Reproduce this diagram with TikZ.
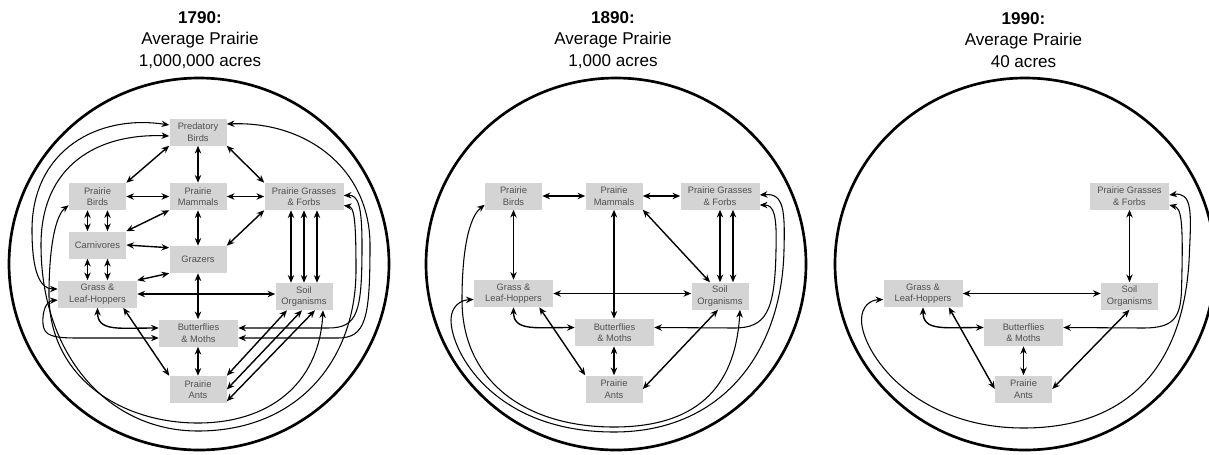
\documentclass[tikz,border=0pt]{standalone}
\usepackage{fontspec}
\setmainfont{Liberation Sans}
\usepackage{tikz}
\usetikzlibrary{arrows.meta}
\definecolor{boxgray}{HTML}{D4D4D4}
\definecolor{inkgray}{HTML}{505050}
\tikzset{
	box/.style={fill=boxgray, text=inkgray, align=center, font=\fontsize{7}{8.6}\selectfont,
			minimum width=42.75pt, minimum height=20.25pt, inner sep=0.5pt},
	wide box/.style={box, minimum width=59.25pt},
	both/.style={{Stealth[length=5.8pt,width=4.8pt]}-{Stealth[length=5.8pt,width=4.8pt]}, line width=1.05pt},
	sweep/.style={both, line width=0.8pt},
	rim/.style={line width=2pt},
	heading/.style={align=center, font=\fontsize{12.8}{16.2}\selectfont}
}

\begin{document}
\begin{tikzpicture}[x=0.75pt,y=-0.75pt]
	\useasboundingbox (0,0) rectangle (1209,454);
	\draw[rim] (199,264) ellipse [x radius=142.5pt, y radius=139.5pt];
	\draw[rim] (616,264) ellipse [x radius=142.5pt, y radius=139.5pt];
	\draw[rim] (1025,264) ellipse [x radius=142.5pt, y radius=139.5pt];

	\begin{scope}[shift={(198,0)}]
		\node[heading] (head1) at (2,40) {\textbf{1790:}\\Average Prairie\\1,000,000 acres};
		\node[box] (pred1) at (0,132) {Predatory\\Birds};
		\node[box] (pbird1) at (-100.5,196.5) {Prairie\\Birds};
		\node[box] (mamm1) at (0,196.5) {Prairie\\Mammals};
		\node[wide box] (forb1) at (106,196.5) {Prairie Grasses\\\& Forbs};
		\node[box] (carn1) at (-100.5,245) {Carnivores};
		\node[box] (graz1) at (0,259.5) {Grazers};
		\node[wide box] (hop1) at (-100.5,294) {Grass \&\\Leaf-Hoppers};
		\node[box] (soil1) at (106,296.5) {Soil\\Organisms};
		\node[wide box] (moth1) at (0.5,333) {Butterflies\\\& Moths};
		\node[box] (ant1) at (0,389.5) {Prairie\\Ants};

		\draw[both] (pred1.south west) -- (pbird1.north east);
		\draw[both] (pred1) -- (mamm1);
		\draw[both] (pred1.south east) -- (forb1.north west);
		\draw[both] (pbird1) -- (mamm1);
		\draw[both] (mamm1) -- (forb1);
		\foreach \dx in {-7.5pt,7.5pt} {
			\draw[both] ([xshift=\dx]pbird1.south) -- ([xshift=\dx]carn1.north);
			\draw[both] ([xshift=\dx]carn1.south) -- ([xshift=\dx]hop1.north);
		}
		\draw[both] (mamm1.south west) -- (carn1.north east);
		\draw[both] (mamm1) -- (graz1);
		\draw[both] (forb1.south west) -- (graz1.north east);
		\draw[both] (carn1.east) -- ([yshift=-1.5pt]graz1.north west);
		\draw[both] (graz1.south west) -- (hop1.north east);
		\draw[both] (hop1.east) -- (soil1.west |- hop1.east);
		\draw[both] (graz1) -- (graz1 |- moth1.north);
		\foreach \dx in {-9.75pt,0pt,9.75pt}
			\draw[both] ([xshift=\dx]forb1.south) -- ([xshift=\dx]soil1.north);
		\draw[both] (hop1.south) .. controls +(0,24) and +(-40,0) .. ([yshift=3.75pt]moth1.west);
		\draw[both] ([xshift=-10.5pt]hop1.south east) -- (ant1.north west);
		\draw[both] (ant1 |- moth1.south) -- (ant1.north);
		\draw[both] ([xshift=-12.75pt]soil1.south) -- (ant1.north east);
		\draw[both] ([xshift=-1.5pt]soil1.south) -- (ant1.east);
		\draw[both] ([xshift=8.25pt]soil1.south) -- ([yshift=1.5pt]ant1.south east);

		\draw[sweep] ([yshift=5.25pt]pred1.west) .. controls (-100,114) and (-166,150) .. (-166,230)
			.. controls (-166,272) and (-158,289) .. ([yshift=3.75pt]hop1.west);
		\draw[sweep] ([yshift=-3pt]pred1.west) .. controls (-100,133) and (-157,165) .. (-157,245)
			.. controls (-157,355) and (-90,431) .. (0,431)
			.. controls (100,431) and (158,360) .. (158,270)
			.. controls (158,218) and (156,207) .. ([yshift=-6.75pt]forb1.east);
		\draw[sweep] ([yshift=3.75pt]pbird1.south west) .. controls (-142,215) and (-149,245) .. (-149,295)
			.. controls (-149,375) and (-80,423) .. (0,423)
			.. controls (70,423) and (121,385) .. ([xshift=14.25pt]soil1.south);
		\draw[sweep] ([yshift=-4.5pt]hop1.west) .. controls (-152,301) and (-156,312) .. (-155,324)
			.. controls (-154,336) and (-145,338) .. (-120,338) -- ([yshift=-3.75pt]moth1.west);
		\draw[sweep] ([yshift=6pt]pred1.east) .. controls (110,121) and (172,170) .. (172,245)
			.. controls (172,318) and (168,338) .. (140,338) -- ([yshift=-3.75pt]moth1.east);
		\draw[sweep] ([yshift=0.75pt]forb1.east) .. controls (160,195) and (164,205) .. (164,245)
			.. controls (164,312) and (160,328) .. (130,328) -- ([yshift=3.75pt]moth1.east);
	\end{scope}

	\begin{scope}[shift={(614,0)}]
		\node[heading] (head2) at (-1,40) {\textbf{1890:}\\Average Prairie\\1,000 acres};
		\node[box] (pbird2) at (-100.5,196) {Prairie\\Birds};
		\node[box] (mamm2) at (0,196) {Prairie\\Mammals};
		\node[wide box] (forb2) at (106,196) {Prairie Grasses\\\& Forbs};
		\node[wide box] (hop2) at (-100.5,293.5) {Grass \&\\Leaf-Hoppers};
		\node[box] (soil2) at (106,296) {Soil\\Organisms};
		\node[wide box] (moth2) at (0.5,332.5) {Butterflies\\\& Moths};
		\node[box] (ant2) at (0,389) {Prairie\\Ants};

		\draw[both] (pbird2) -- (mamm2);
		\draw[both] (mamm2) -- (forb2);
		\draw[both] (pbird2) -- (hop2);
		\draw[both] (mamm2) -- (mamm2 |- moth2.north);
		\draw[both] (mamm2.south east) -- ([xshift=-7.5pt]soil2.north);
		\foreach \dx in {0pt,9.75pt}
			\draw[both] ([xshift=\dx]forb2.south) -- ([xshift=\dx]soil2.north);
		\draw[both] (hop2.east) -- (soil2.west |- hop2.east);
		\draw[both] (hop2.south) .. controls +(0,24) and +(-40,0) .. ([yshift=3.75pt]moth2.west);
		\draw[both] ([xshift=-10.5pt]hop2.south east) -- (ant2.north west);
		\draw[both] (ant2 |- moth2.south) -- (ant2.north);
		\draw[both] ([xshift=-1.5pt]soil2.south) -- (ant2.east);

		\draw[sweep] ([yshift=-6.75pt]forb2.east) .. controls (160,205) and (163,215) .. (162,250)
			.. controls (161,312) and (152,328) .. (120,328) -- ([yshift=3.75pt]moth2.east);
		\draw[sweep] ([yshift=0.75pt]forb2.east) .. controls (170,193) and (171,210) .. (170,250)
			.. controls (168,350) and (110,432) .. (0,432)
			.. controls (-120,432) and (-163,352) .. (-163,320)
			.. controls (-163,306) and (-153,300) .. ([yshift=-4.5pt]hop2.west);
		\draw[sweep] ([yshift=3.75pt]pbird2.south west) .. controls (-145,217) and (-152,250) .. (-152,300)
			.. controls (-152,380) and (-90,427) .. (0,427)
			.. controls (90,427) and (122,380) .. ([xshift=15pt]soil2.south);
	\end{scope}

	\begin{scope}[shift={(1023.5,0)}]
		\node[heading] (head3) at (0,40) {\textbf{1990:}\\Average Prairie\\40 acres};
		\node[wide box] (forb3) at (106,196) {Prairie Grasses\\\& Forbs};
		\node[wide box] (hop3) at (-100.5,293.5) {Grass \&\\Leaf-Hoppers};
		\node[box] (soil3) at (106,296) {Soil\\Organisms};
		\node[wide box] (moth3) at (0,332.5) {Butterflies\\\& Moths};
		\node[box] (ant3) at (0,389) {Prairie\\Ants};

		\draw[both] (forb3) -- (soil3);
		\draw[both] (hop3.east) -- (soil3.west |- hop3.east);
		\draw[both] (hop3.south) .. controls +(0,24) and +(-40,0) .. ([yshift=3.75pt]moth3.west);
		\draw[both] ([xshift=-10.5pt]hop3.south east) -- (ant3.west);
		\draw[both] (moth3) -- (ant3);
		\draw[both] (soil3.south) -- (ant3.east);

		\draw[sweep] ([yshift=-6.75pt]forb3.east) .. controls (158,208) and (160,220) .. (158,290)
			.. controls (157,318) and (150,328) .. (120,328) -- ([yshift=3.75pt]moth3.east);
		\draw[sweep] ([yshift=0.75pt]forb3.east) .. controls (168,192) and (168,210) .. (166,250)
			.. controls (163,360) and (110,428) .. (0,428)
			.. controls (-110,428) and (-162,352) .. (-162,320)
			.. controls (-162,306) and (-153,300) .. ([yshift=-4.5pt]hop3.west);
	\end{scope}
\end{tikzpicture}
\end{document}
